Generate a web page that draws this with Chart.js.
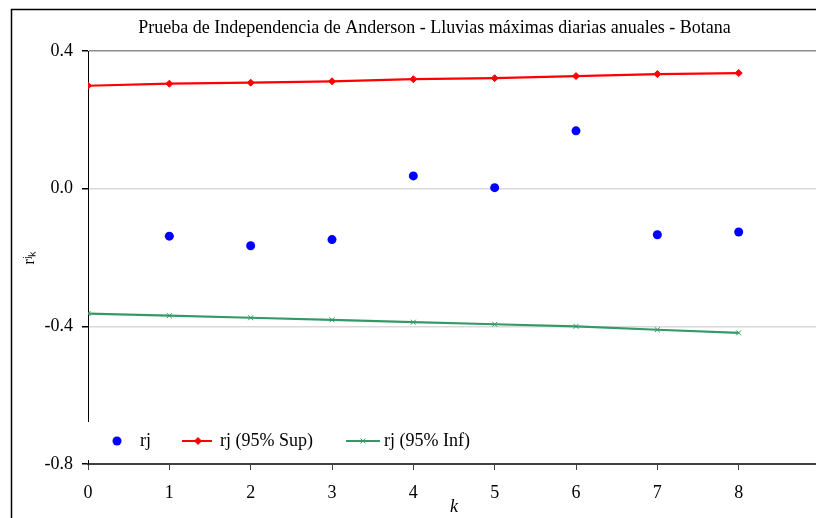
<!DOCTYPE html>
<html>
<head>
<meta charset="utf-8">
<script src="https://cdn.jsdelivr.net/npm/chart.js@4/dist/chart.umd.min.js"></script>
<style>
    html, body { margin: 0; padding: 0; background: #fff; overflow: hidden; }
    #wrap { position: absolute; left: 0; top: 0; width: 840px; height: 530px; }
</style>
</head>
<body>
<div id="wrap"><canvas id="chart-anderson" width="840" height="530"></canvas></div>
<script>
// Datos
const lags = [1, 2, 3, 4, 5, 6, 7, 8];
const lagsBand = [0, 1, 2, 3, 4, 5, 6, 7, 8];
const rj = [-0.138, -0.166, -0.148, 0.037, 0.003, 0.168, -0.134, -0.126];
const rjSup = [0.299, 0.305, 0.308, 0.312, 0.318, 0.321, 0.327, 0.333, 0.336];
const rjInf = [-0.363, -0.369, -0.375, -0.381, -0.388, -0.394, -0.400, -0.410, -0.419];
const xTicks = [0, 1, 2, 3, 4, 5, 6, 7, 8, 9];
const yTicks = [-0.8, -0.4, 0.0, 0.4];

const FONT = 'Liberation Serif, Times New Roman, serif';
const FSIZE = 18;

function toPoints(xs, ys) {
    return xs.map((x, i) => ({ x: x, y: ys[i] }));
}

// Marco exterior + leyenda dentro del área del gráfico
const framePlugin = {
    id: 'frame',
    afterLayout(chart) {
        // el título va centrado en el marco, no en el canvas
        if (chart.titleBlock) {
            chart.titleBlock.left = 49;
        }
    },
    beforeDraw(chart) {
        const ctx = chart.ctx;
        ctx.save();
        ctx.strokeStyle = '#000';
        ctx.lineWidth = 1.5;
        ctx.strokeRect(11.5, 9.5, 900, 600);
        ctx.restore();
    },
    afterDraw(chart) {
        const ctx = chart.ctx;
        const ds = chart.data.datasets;
        const y = 441;
        ctx.save();
        ctx.fillStyle = '#fff';
        ctx.fillRect(84, 422, 400, 38);

        ctx.font = FSIZE + 'px ' + FONT;
        ctx.textBaseline = 'middle';

        // rj
        ctx.fillStyle = ds[0].backgroundColor;
        ctx.beginPath();
        ctx.arc(117, y, 4.5, 0, Math.PI * 2);
        ctx.fill();
        ctx.fillStyle = '#000';
        ctx.fillText(ds[0].label, 140, y);

        // rj (95% Sup)
        ctx.strokeStyle = ds[1].borderColor;
        ctx.lineWidth = 2;
        ctx.beginPath();
        ctx.moveTo(182, y);
        ctx.lineTo(212, y);
        ctx.stroke();
        ctx.fillStyle = ds[1].borderColor;
        ctx.lineWidth = 1;
        Chart.helpers.drawPoint(ctx, { pointStyle: 'rectRot', radius: 3.5, borderWidth: 1 }, 198, y);
        ctx.fillStyle = '#000';
        ctx.fillText(ds[1].label, 220, y);

        // rj (95% Inf)
        ctx.strokeStyle = ds[2].borderColor;
        ctx.lineWidth = 2;
        ctx.beginPath();
        ctx.moveTo(346, y);
        ctx.lineTo(380, y);
        ctx.stroke();
        ctx.lineWidth = 1;
        Chart.helpers.drawPoint(ctx, { pointStyle: 'crossRot', radius: 3.5, borderWidth: 1 }, 363, y);
        ctx.fillStyle = '#000';
        ctx.fillText(ds[2].label, 384, y);
        ctx.restore();
    }
};

class AndersonChart {
    constructor() {
        this.canvas = document.getElementById('chart-anderson');
        this.chart = null;
        if (this.canvas) {
            this.initChart();
        }
    }

    initChart() {
        const ctx = this.canvas.getContext('2d');

        this.chart = new Chart(ctx, {
            type: 'scatter',
            data: {
                datasets: [
                    {
                        label: 'rj',
                        data: toPoints(lags, rj),
                        backgroundColor: '#0000ff',
                        borderColor: '#0000ff',
                        pointStyle: 'circle',
                        pointRadius: 4.5,
                        borderWidth: 0,
                        showLine: false
                    },
                    {
                        label: 'rj (95% Sup)',
                        data: toPoints(lagsBand, rjSup),
                        borderColor: '#ff0000',
                        backgroundColor: '#ff0000',
                        pointStyle: 'rectRot',
                        pointRadius: 3.5,
                        borderWidth: 2.2,
                        pointBorderWidth: 1,
                        showLine: true
                    },
                    {
                        label: 'rj (95% Inf)',
                        data: toPoints(lagsBand, rjInf),
                        borderColor: '#339966',
                        backgroundColor: '#339966',
                        pointStyle: 'crossRot',
                        pointRadius: 3.5,
                        borderWidth: 2.2,
                        pointBorderWidth: 1,
                        showLine: true
                    }
                ]
            },
            options: {
                responsive: false,
                animation: false,
                layout: {
                    padding: { left: 0, top: 0, right: 20, bottom: 0 }
                },
                plugins: {
                    legend: { display: false },
                    tooltip: { enabled: false },
                    title: {
                        display: true,
                        text: 'Prueba de Independencia de Anderson - Lluvias máximas diarias anuales - Botana',
                        color: '#000',
                        font: { family: FONT, size: FSIZE, weight: 'normal' },
                        padding: { top: 17, bottom: 12.4 }
                    }
                },
                scales: {
                    x: {
                        type: 'linear',
                        min: 0,
                        max: 9,
                        afterBuildTicks: (axis) => {
                            axis.ticks = xTicks.map(v => ({ value: v }));
                        },
                        afterFit: (axis) => { axis.height = 66; },
                        grid: {
                            drawOnChartArea: false,
                            drawTicks: true,
                            tickLength: 6,
                            tickColor: '#404040'
                        },
                        border: { color: '#404040', width: 2 },
                        ticks: {
                            color: '#000',
                            padding: 12,
                            font: { family: FONT, size: FSIZE },
                            callback: (v) => String(v)
                        },
                        title: {
                            display: true,
                            text: 'k',
                            color: '#000',
                            font: { family: FONT, size: FSIZE, style: 'italic' },
                            padding: { top: 0, bottom: 12 }
                        }
                    },
                    y: {
                        min: -0.8,
                        max: 0.4,
                        afterBuildTicks: (axis) => {
                            axis.ticks = yTicks.map(v => ({ value: v }));
                        },
                        afterFit: (axis) => { axis.width = 88; },
                        grid: {
                            color: (c) => (c.tick && c.tick.value === 0.4) ? '#8c8c8c' : '#d9d9d9',
                            lineWidth: 1.5,
                            tickColor: '#000',
                            tickLength: 6
                        },
                        border: { color: '#000', width: 1 },
                        ticks: {
                            color: '#000',
                            padding: 9,
                            font: { family: FONT, size: FSIZE },
                            callback: (v) => v.toFixed(1)
                        },
                        title: {
                            display: true,
                            text: 'r\u02B2\u2096',
                            color: '#000',
                            font: { family: FONT, size: 16 },
                            padding: { top: 20, bottom: 0 }
                        }
                    }
                }
            },
            plugins: [framePlugin]
        });
    }
}

new AndersonChart();
</script>
</body>
</html>
